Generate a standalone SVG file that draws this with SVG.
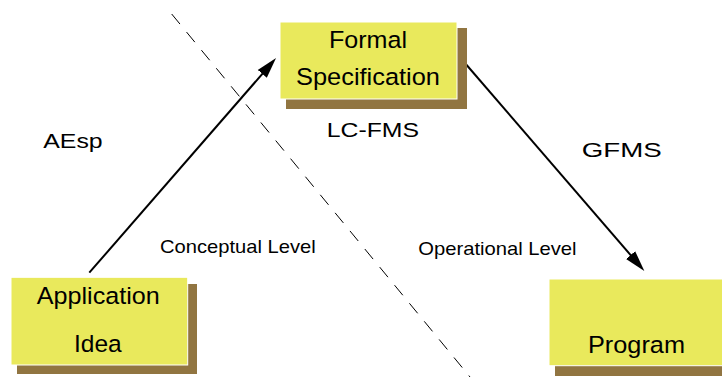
<svg xmlns="http://www.w3.org/2000/svg" width="722" height="377" viewBox="0 0 722 377">
<style>
.shadow{fill:#917541}
.box{fill:#e9e95c;stroke:#ffffff;stroke-width:1}
.t{font-family:"Liberation Sans",Arial,sans-serif;fill:#000}
.big{font-size:24.5px}
.lbl{font-size:21px}
.lvl{font-size:18.5px}
.conn{stroke:#000;stroke-width:2;fill:none}
.dash{stroke:#000;stroke-width:1;stroke-dasharray:13 10.4;fill:none}
</style>
<defs>
<marker id="arr" markerUnits="userSpaceOnUse" markerWidth="22" markerHeight="14" viewBox="0 0 22 14" refX="11" refY="7" orient="auto">
<path d="M0,1 L21,7 L0,13 z" fill="#000"/>
</marker>
</defs>
<g id="divider">
<line class="dash" x1="171.7" y1="14" x2="470" y2="377"/>
</g>
<g id="connectors">
<line class="conn" x1="89.3" y1="272.7" x2="269.5" y2="65.6" marker-end="url(#arr)"/>
<line class="conn" x1="458" y1="55" x2="637.8" y2="263.4" marker-end="url(#arr)"/>
</g>
<g id="formal">
<rect class="shadow" x="286" y="28" width="181" height="81"/>
<rect class="box" x="280" y="22" width="177" height="77"/>
<text class="t big" x="368" y="48.3" text-anchor="middle" textLength="78" lengthAdjust="spacingAndGlyphs">Formal</text>
<text class="t big" x="368" y="85" text-anchor="middle" textLength="144" lengthAdjust="spacingAndGlyphs">Specification</text>
</g>
<g id="application">
<rect class="shadow" x="17" y="284" width="180" height="90"/>
<rect class="box" x="11" y="277.3" width="176.7" height="87.7"/>
<text class="t big" x="98.3" y="304.3" text-anchor="middle" textLength="123" lengthAdjust="spacingAndGlyphs">Application</text>
<text class="t big" x="97.8" y="351.7" text-anchor="middle" textLength="47.7" lengthAdjust="spacingAndGlyphs">Idea</text>
</g>
<g id="program">
<rect class="shadow" x="555" y="286" width="181" height="90"/>
<rect class="box" x="549" y="279" width="177" height="86.7"/>
<text class="t big" x="636.5" y="352.7" text-anchor="middle" textLength="97" lengthAdjust="spacingAndGlyphs">Program</text>
</g>
<g id="labels">
<text class="t lbl" x="43.3" y="148.3" textLength="59.4" lengthAdjust="spacingAndGlyphs">AEsp</text>
<text class="t lbl" x="326.7" y="136.7" textLength="92.3" lengthAdjust="spacingAndGlyphs">LC-FMS</text>
<text class="t lbl" x="581.7" y="157.3" textLength="80" lengthAdjust="spacingAndGlyphs">GFMS</text>
<text class="t lvl" x="160" y="252.7" textLength="155.7" lengthAdjust="spacingAndGlyphs">Conceptual Level</text>
<text class="t lvl" x="418.3" y="255" textLength="158.3" lengthAdjust="spacingAndGlyphs">Operational Level</text>
</g>
</svg>
